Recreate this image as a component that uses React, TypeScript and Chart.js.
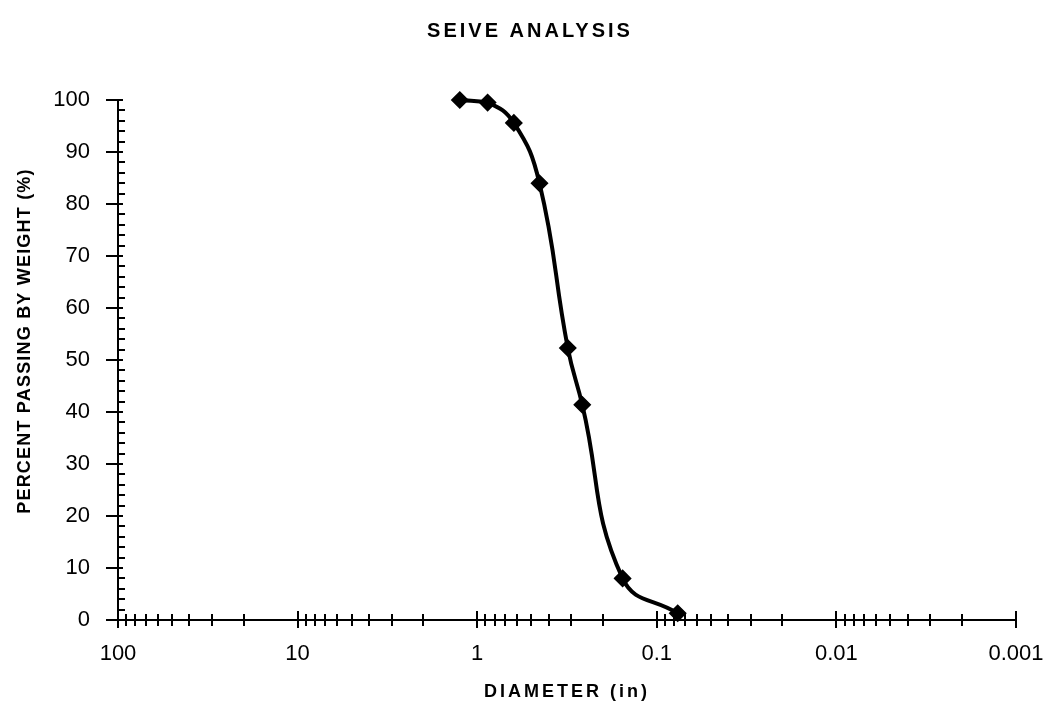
import React, { useEffect, useRef } from 'react';
import { Chart, registerables } from 'chart.js';

Chart.register(...registerables);

// ---- data ----
const chartTitle = 'SEIVE ANALYSIS';
const xAxisTitle = 'DIAMETER (in)';
const yAxisTitle = 'PERCENT PASSING BY WEIGHT (%)';

const diameters = [1.25, 0.875, 0.625, 0.45, 0.313, 0.26, 0.155, 0.0765];
const percentPassing = [100, 99.5, 95.6, 84, 52.3, 41.4, 8, 1.3];

const xTickValues = [100, 10, 1, 0.1, 0.01, 0.001];
const xTickLabels = ['100', '10', '1', '0.1', '0.01', '0.001'];
const xMinorMultipliers = [2, 3, 4, 5, 6, 7, 8, 9];

const yTickValues = [0, 10, 20, 30, 40, 50, 60, 70, 80, 90, 100];
const yMinorValues = [2, 4, 6, 8];

const FONT = '"Liberation Sans", Arial, Helvetica, sans-serif';

const decorPlugin = {
  id: 'decor',
  afterDraw(chart: any) {
    const { ctx, chartArea, scales } = chart;
    const xs = scales.x;
    const ys = scales.y;
    ctx.save();
    ctx.strokeStyle = '#000';
    ctx.lineWidth = 2;
    ctx.lineCap = 'butt';

    // y ticks
    const left = chartArea.left;
    yTickValues.forEach((v) => {
      const py = Math.round(ys.getPixelForValue(v));
      ctx.beginPath();
      ctx.moveTo(left - 12, py);
      ctx.lineTo(left + 5, py);
      ctx.stroke();
    });
    yTickValues.slice(0, -1).forEach((base) => {
      yMinorValues.forEach((m) => {
        const py = Math.round(ys.getPixelForValue(base + m));
        ctx.beginPath();
        ctx.moveTo(left, py);
        ctx.lineTo(left + 7, py);
        ctx.stroke();
      });
    });

    // x ticks
    const bottom = chartArea.bottom;
    xTickValues.forEach((v) => {
      const px = Math.round(xs.getPixelForValue(v));
      ctx.beginPath();
      ctx.moveTo(px, bottom - 9);
      ctx.lineTo(px, bottom + 8);
      ctx.stroke();
    });
    xTickValues.slice(1).forEach((d) => {
      xMinorMultipliers.forEach((m) => {
        const px = Math.round(xs.getPixelForValue(d * m));
        ctx.beginPath();
        ctx.moveTo(px, bottom - 6);
        ctx.lineTo(px, bottom + 6);
        ctx.stroke();
      });
    });

    // titles
    ctx.fillStyle = '#000';
    ctx.textAlign = 'center';
    ctx.textBaseline = 'alphabetic';

    (ctx as any).letterSpacing = '3px';
    ctx.font = `bold 20px ${FONT}`;
    ctx.fillText(chartTitle, 530, 37);

    (ctx as any).letterSpacing = '3px';
    ctx.font = `bold 18px ${FONT}`;
    ctx.fillText(xAxisTitle, (chartArea.left + chartArea.right) / 2, 697);

    (ctx as any).letterSpacing = '1.2px';
    ctx.font = `bold 18px ${FONT}`;
    ctx.translate(30, 341);
    ctx.rotate(-Math.PI / 2);
    ctx.fillText(yAxisTitle, 0, 0);
    ctx.restore();
  },
};

export default function App() {
  const canvasRef = useRef<HTMLCanvasElement | null>(null);

  useEffect(() => {
    document.body.style.margin = '0';
    const canvas = canvasRef.current;
    if (!canvas) return;
    const chart = new Chart(canvas, {
      type: 'line',
      data: {
        datasets: [
          {
            data: diameters.map((d, i) => ({ x: d, y: percentPassing[i] })),
            borderColor: '#000',
            backgroundColor: '#000',
            borderWidth: 4,
            tension: 0.45,
            pointStyle: 'rectRot',
            pointRadius: 8,
            pointBorderWidth: 1.5,
            pointBackgroundColor: '#000',
            pointBorderColor: '#000',
            clip: false as any,
            fill: false,
          },
        ],
      },
      options: {
        responsive: false,
        animation: false,
        devicePixelRatio: 1,
        layout: { padding: { top: 100, right: 33, bottom: 0, left: 0 } },
        plugins: {
          legend: { display: false },
          title: { display: false },
          tooltip: { enabled: false },
        },
        scales: {
          x: {
            type: 'logarithmic',
            min: 0.001,
            max: 100,
            reverse: true,
            grid: { display: false, drawTicks: false },
            border: { display: true, color: '#000', width: 2 },
            afterBuildTicks: (scale: any) => {
              scale.ticks = xTickValues.map((v) => ({ value: v, major: true }));
            },
            afterFit: (scale: any) => {
              scale.height = 82;
              scale.paddingLeft = 0;
              scale.paddingRight = 0;
            },
            ticks: {
              autoSkip: false,
              maxRotation: 0,
              padding: 21,
              color: '#000',
              font: { family: FONT, size: 22 },
              callback: (value: any) => {
                const idx = xTickValues.findIndex((v) => Math.abs(v - Number(value)) < v * 1e-6);
                return idx >= 0 ? xTickLabels[idx] : '';
              },
            },
          },
          y: {
            type: 'linear',
            min: 0,
            max: 100,
            grid: { display: false, drawTicks: false },
            border: { display: true, color: '#000', width: 2 },
            afterFit: (scale: any) => {
              scale.width = 118;
              scale.paddingTop = 0;
              scale.paddingBottom = 0;
            },
            ticks: {
              stepSize: 10,
              padding: 28,
              color: '#000',
              font: { family: FONT, size: 22 },
            },
          },
        },
      },
      plugins: [decorPlugin],
    });
    return () => chart.destroy();
  }, []);

  return (
    <canvas
      ref={canvasRef}
      width={1049}
      height={702}
      style={{ display: 'block', width: 1049, height: 702 }}
    />
  );
}
